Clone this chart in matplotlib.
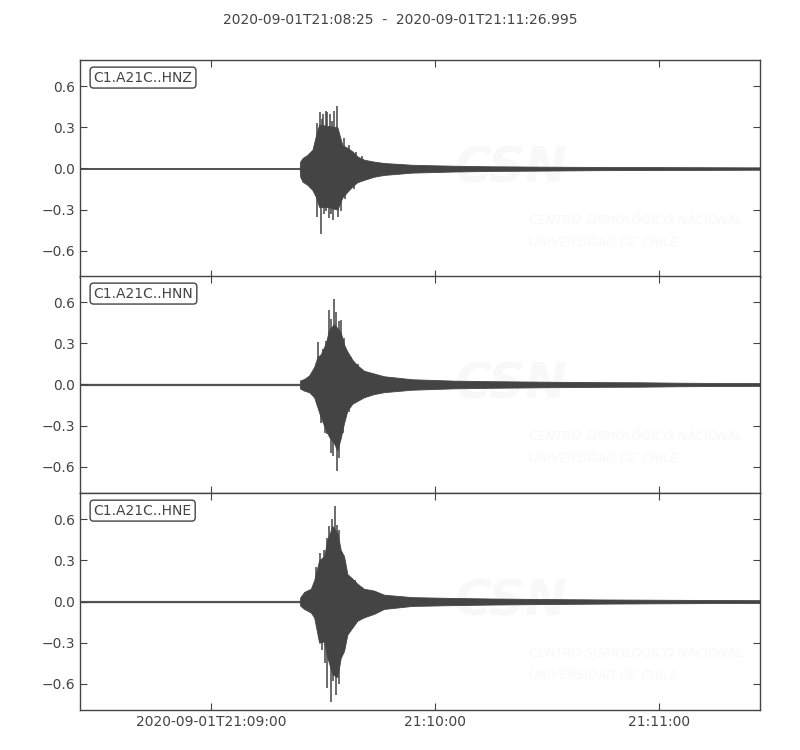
import matplotlib
matplotlib.use('Agg')
import matplotlib.pyplot as plt
import numpy as np

# Seconds after 2020-09-01T21:08:25 (envelope of the traces)
channels = ['C1.A21C..HNZ', 'C1.A21C..HNN', 'C1.A21C..HNE']

hnz_t = [0, 58.8, 58.93, 59.56, 60.89, 62.22, 63.11, 64.0, 66.22, 68.89, 70.22, 71.56, 72.89, 74.22, 76.0,
         78.67, 81.33, 88.9, 100, 110, 125, 140, 155, 170, 182]
hnz_top = [0.003, 0.003, 0.05, 0.076, 0.10, 0.137, 0.236, 0.32, 0.31, 0.30, 0.17, 0.15, 0.125, 0.088, 0.064,
           0.05, 0.04, 0.027, 0.02, 0.016, 0.013, 0.011, 0.01, 0.009, 0.008]
hnz_bot = [-0.003, -0.003, -0.06, -0.096, -0.12, -0.157, -0.206, -0.28, -0.28, -0.30, -0.21, -0.17, -0.13, -0.10,
           -0.083, -0.06, -0.047, -0.03, -0.022, -0.018, -0.015, -0.012, -0.011, -0.01, -0.009]
hnz_spike_t = [63.4, 64.27, 64.8, 65.16, 65.78, 66.22, 66.93, 67.56, 68.0, 68.71, 70.6, 72.1, 73.8, 75.5,
               63.56, 64.62, 65.3, 65.78, 66.67, 67.3, 67.82, 69.07, 69.78, 71.0, 73.2]
hnz_spike_amp = [0.33, 0.41, 0.36, 0.395, 0.42, 0.41, 0.395, 0.345, 0.42, 0.457, 0.22, 0.17, 0.12, 0.09,
                 -0.356, -0.476, -0.33, -0.307, -0.36, -0.33, -0.378, -0.35, -0.31, -0.22, -0.15]

hnn_t = [0, 58.8, 58.93, 60.0, 61.33, 62.67, 63.56, 64.44, 65.78, 66.67, 68.0, 68.89, 69.78, 70.67, 71.56,
         72.89, 74.22, 76.0, 78.67, 81.33, 88.9, 100, 110, 125, 140, 150, 160, 170, 182]
hnn_top = [0.005, 0.005, 0.03, 0.04, 0.066, 0.128, 0.20, 0.22, 0.30, 0.40, 0.44, 0.41, 0.38, 0.29, 0.24,
           0.18, 0.14, 0.10, 0.08, 0.06, 0.038, 0.028, 0.024, 0.02, 0.017, 0.016, 0.013, 0.011, 0.01]
hnn_bot = [-0.005, -0.005, -0.03, -0.045, -0.056, -0.093, -0.167, -0.24, -0.33, -0.38, -0.43, -0.48, -0.39, -0.28,
           -0.19, -0.14, -0.12, -0.093, -0.07, -0.056, -0.038, -0.028, -0.024, -0.02, -0.017, -0.016, -0.013, -0.011, -0.01]
hnn_spike_t = [63.8, 65.0, 65.78, 66.67, 67.3, 67.9, 68.4, 69.2, 69.78, 70.67, 72.5, 74.5,
               64.5, 65.5, 66.2, 67.1, 67.82, 68.71, 69.2, 70.3, 72.0]
hnn_spike_amp = [0.31, 0.26, 0.32, 0.545, 0.48, 0.62, 0.53, 0.46, 0.47, 0.34, 0.2, 0.15,
                 -0.28, -0.35, -0.36, -0.50, -0.52, -0.63, -0.535, -0.35, -0.2]

hne_t = [0, 58.8, 58.93, 60.0, 61.78, 62.67, 64.0, 65.33, 66.22, 67.56, 68.89, 69.78, 70.67, 71.56, 72.89,
         74.22, 76.0, 78.67, 81.33, 88.9, 100, 110, 125, 140, 155, 170, 182]
hne_top = [0.005, 0.005, 0.03, 0.07, 0.093, 0.155, 0.30, 0.33, 0.45, 0.55, 0.50, 0.375, 0.33, 0.20, 0.167,
           0.13, 0.093, 0.08, 0.05, 0.032, 0.026, 0.022, 0.018, 0.015, 0.013, 0.011, 0.01]
hne_bot = [-0.005, -0.005, -0.03, -0.054, -0.08, -0.115, -0.30, -0.29, -0.41, -0.53, -0.55, -0.41, -0.36, -0.24,
           -0.19, -0.14, -0.115, -0.09, -0.054, -0.032, -0.026, -0.022, -0.018, -0.015, -0.013, -0.011, -0.01]
hne_spike_t = [63.11, 64.27, 65.33, 66.0, 66.67, 67.4, 68.18, 68.7, 69.33, 71.0, 73.5,
               64.9, 65.6, 66.04, 67.1, 67.7, 68.44, 69.33, 70.2, 72.2]
hne_spike_amp = [0.25, 0.35, 0.375, 0.46, 0.547, 0.60, 0.695, 0.56, 0.52, 0.26, 0.16,
                 -0.35, -0.45, -0.63, -0.73, -0.58, -0.68, -0.60, -0.40, -0.2]

tick_sec = [35, 95, 155]
tick_labels = ['2020-09-01T21:09:00', '21:10:00', '21:11:00']
y_ticks = [-0.6, -0.3, 0.0, 0.3, 0.6]

traces = [
    (hnz_t, hnz_top, hnz_bot, hnz_spike_t, hnz_spike_amp),
    (hnn_t, hnn_top, hnn_bot, hnn_spike_t, hnn_spike_amp),
    (hne_t, hne_top, hne_bot, hne_spike_t, hne_spike_amp),
]

grey = '#444444'
plt.rcParams['font.family'] = 'DejaVu Sans'
plt.rcParams['text.color'] = grey
plt.rcParams['axes.edgecolor'] = grey
plt.rcParams['xtick.color'] = grey
plt.rcParams['ytick.color'] = grey

fig = plt.figure(figsize=(8, 7.5), dpi=100)
bottoms = [0.6307, 0.3427, 0.0533]

for i, (name, (t, top, bot, st, sa)) in enumerate(zip(channels, traces)):
    ax = fig.add_axes([0.1, bottoms[i], 0.85, 0.2893])

    # faint watermark
    ax.text(0.55, 0.5, 'CSN', transform=ax.transAxes, fontsize=36, fontweight='bold', style='italic',
            color='#f8f8f8', va='center', ha='left', zorder=0, clip_on=True)
    ax.text(0.66, 0.26, 'CENTRO SISMOLÓGICO NACIONAL', transform=ax.transAxes, fontsize=9, style='italic',
            color='#f8f8f8', va='center', ha='left', zorder=0, clip_on=True)
    ax.text(0.66, 0.16, 'UNIVERSIDAD DE CHILE', transform=ax.transAxes, fontsize=9, style='italic',
            color='#f8f8f8', va='center', ha='left', zorder=0, clip_on=True)

    ax.fill_between(t, bot, top, color=grey, linewidth=0.6, edgecolor=grey, zorder=2)
    ax.vlines(st, 0, sa, color=grey, linewidth=1.1, zorder=2)

    ax.set_xlim(0, 181.995)
    ax.set_ylim(-0.79, 0.79)
    ax.set_yticks(y_ticks)
    ax.set_yticklabels(['\u22120.6', '\u22120.3', '0.0', '0.3', '0.6'], fontsize=10)
    ax.set_xticks(tick_sec)
    if i == 2:
        ax.set_xticklabels(tick_labels, fontsize=10)
    else:
        ax.set_xticklabels([])
    ax.tick_params(direction='in', top=True, right=True, length=5, width=0.8)
    for sp in ax.spines.values():
        sp.set_linewidth(1.0)

    ax.text(0.02, 0.919, name, transform=ax.transAxes, fontsize=10, va='center', ha='left',
            bbox=dict(boxstyle='round,pad=0.25', fc='white', ec=grey, lw=1), zorder=5)

fig.text(0.5, 0.973, '2020-09-01T21:08:25  -  2020-09-01T21:11:26.995', ha='center', va='center', fontsize=10)

plt.savefig('out.png', dpi=100)
